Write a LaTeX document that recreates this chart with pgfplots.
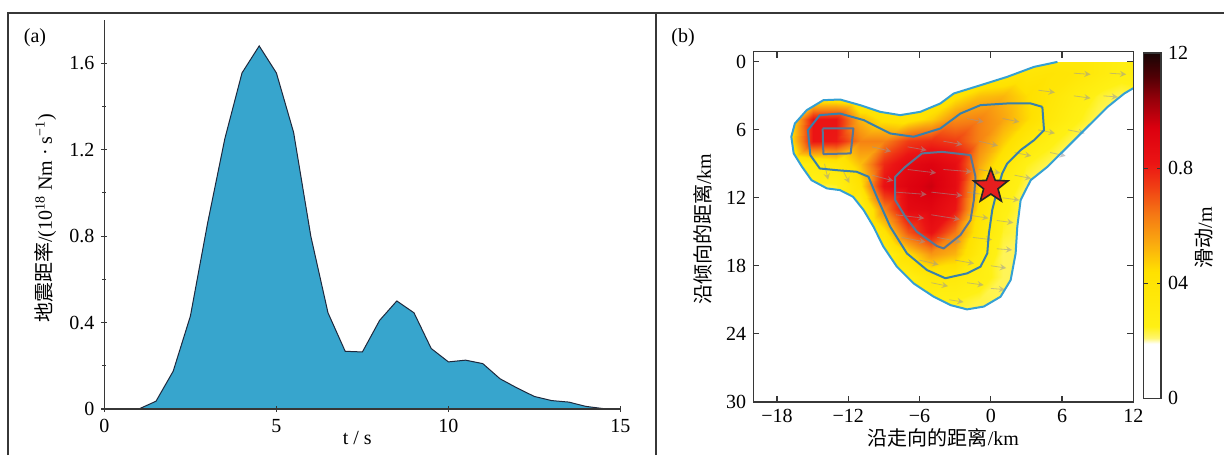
\documentclass[border=0pt]{standalone}
\usepackage{pgfplots}
\usepackage{pgfplotstable}
\pgfplotsset{compat=1.18}
\usepackage{fontspec}
\setmainfont{Liberation Serif}
\newfontfamily\cjk{Noto Sans CJK SC}
\definecolor{fillA}{RGB}{55,165,205}
\definecolor{edgeA}{RGB}{30,40,60}
\definecolor{cOuter}{RGB}{52,160,212}
\definecolor{cMid}{RGB}{55,128,172}
\definecolor{cIn}{RGB}{88,118,150}
\definecolor{starred}{RGB}{230,30,30}
\definecolor{frame}{RGB}{55,55,55}

\pgfdeclareplotmark{fstar}{%
  \pgfpathmoveto{\pgfpointpolar{90}{\pgfplotmarksize}}%
  \pgfpathlineto{\pgfpointpolar{126}{0.42\pgfplotmarksize}}%
  \pgfpathlineto{\pgfpointpolar{162}{\pgfplotmarksize}}%
  \pgfpathlineto{\pgfpointpolar{198}{0.42\pgfplotmarksize}}%
  \pgfpathlineto{\pgfpointpolar{234}{\pgfplotmarksize}}%
  \pgfpathlineto{\pgfpointpolar{270}{0.42\pgfplotmarksize}}%
  \pgfpathlineto{\pgfpointpolar{306}{\pgfplotmarksize}}%
  \pgfpathlineto{\pgfpointpolar{342}{0.42\pgfplotmarksize}}%
  \pgfpathlineto{\pgfpointpolar{18}{\pgfplotmarksize}}%
  \pgfpathlineto{\pgfpointpolar{54}{0.42\pgfplotmarksize}}%
  \pgfpathclose
  \pgfusepathqfillstroke}

\pgfplotsset{
  mystyle/.style={scale only axis, tick align=inside,
    /pgf/number format/assume math mode=true,
    ticklabel style={font=\fontsize{10}{12}\selectfont},
    label style={font=\fontsize{10}{12}\selectfont},
    axis line style={line width=0.8pt, frame},
    every tick/.style={frame, line width=0.6pt},
    major tick length=3pt, minor tick length=2pt}
}

\pgfplotstableread{
t m
0 0
1.0 0
1.5 0.036
2.0 0.175
2.5 0.43
3.0 0.86
3.5 1.25
4.0 1.555
4.5 1.68
5.0 1.555
5.5 1.28
6.0 0.80
6.5 0.445
7.0 0.267
7.5 0.264
8.0 0.41
8.5 0.50
9.0 0.445
9.5 0.28
10.0 0.218
10.5 0.226
11.0 0.21
11.5 0.14
12.0 0.097
12.5 0.058
13.0 0.039
13.5 0.032
14.0 0.012
14.5 0.002
15.0 0
}\mrf

\pgfplotstableread{
x y u v
7 1 1.4 0.1
10 1 1.4 0.1
4 2.5 1.4 0.2
7 3 1.4 0.2
9.5 3 1.2 0.1
-14 9 0.3 1.4
-12.5 9.5 0.6 1.2
-2 5 1.4 0.3
1 5 1.4 0.3
4 6 1.4 0.3
6.5 6 1.4 0.3
-10 7.5 1.6 0.4
-7 7.5 1.6 0.3
-4 7 1.6 0.3
-1 7 1.6 0.4
2 8 1.4 0.3
5 8 1.3 0.3
-10 10 1.8 0.5
-7 9.5 2.4 0.3
-4 9.5 2.4 0.2
-1 9.5 1.8 0.3
2 10 1.4 0.3
-8 11.5 2.6 0.2
-5 11.5 2.6 0.3
-2 11.5 2.0 0.3
1 12 1.4 0.2
-8 13.5 2.4 0.3
-5 13.5 2.4 0.4
-2 13.5 1.8 0.3
0.5 14 1.4 0.2
-7.5 15.5 2.0 0.4
-4.5 15.5 2.0 0.4
-1.5 15.5 1.6 0.2
0.5 16.5 1.3 0.1
-6 17.5 1.6 0.4
-3 17.5 1.6 0.3
0 18 1.3 0.2
-5 19.5 1.4 0.3
-2 19.5 1.4 0.2
0 20 1.2 0.1
-3.5 21 1.2 0.2
}\arrows

\begin{document}
\begin{tikzpicture}
\path[use as bounding box] (0pt,0pt) rectangle (612pt,227.5pt);
\draw[line width=1pt, frame] (4pt,0pt) -- (4pt,221pt) -- (612pt,221pt);
\draw[line width=1pt, frame] (328pt,0pt) -- (328pt,221pt);
\node[font=\fontsize{10}{12}\selectfont] at (17.5pt,208.5pt) {(a)};
\node[font=\fontsize{10}{12}\selectfont] at (341.5pt,208.5pt) {(b)};

% ---------------- panel (a)
\begin{axis}[mystyle, at={(52.2pt,23pt)}, anchor=south west,
  width=258pt, height=194.5pt,
  xmin=0, xmax=15, ymin=0, ymax=1.8,
  axis x line=bottom, axis y line=left, axis line style={-},
  xtick={0,5,10,15},
  ytick={0,0.4,0.8,1.2,1.6}, yticklabels={0,0.4,0.8,1.2,1.6},
  minor ytick={0.2,0.6,1.0,1.4},
  axis on top,
  xlabel={t / s},
  xlabel style={at={(axis description cs:0.49,-0.0746)}, anchor=center},
  ylabel={{\cjk 地震距率}/(10\textsuperscript{18} Nm · s\textsuperscript{−1})},
  ylabel style={at={(axis description cs:-0.1143,0.49)}, anchor=center},
]
\addplot[fill=fillA, draw=edgeA, line width=0.5pt] table[x=t,y=m]{\mrf} \closedcycle;
\end{axis}

% ---------------- panel (b)
\begin{axis}[mystyle, at={(376.65pt,26.65pt)}, anchor=south west,
  width=190pt, height=175pt,
  xmin=-20, xmax=12, ymin=-0.9, ymax=30, y dir=reverse,
  xtick={-18,-12,-6,0,6,12}, xticklabels={−18,−12,−6,0,6,12},
  ytick={0,6,12,18,24,30},
  axis on top,
  xlabel={{\cjk 沿走向的距离}/km},
  xlabel style={at={(axis description cs:0.5,-0.1029)}, anchor=center},
  ylabel={{\cjk 沿倾向的距离}/km},
  ylabel style={at={(axis description cs:-0.1316,0.493)}, anchor=center},
  colormap={slip}{rgb255(0pt)=(255,255,255); rgb255(19pt)=(255,255,255);
    rgb255(21pt)=(255,246,110); rgb255(25pt)=(255,240,20); rgb255(44pt)=(255,225,0);
    rgb255(54pt)=(250,170,15); rgb255(64pt)=(245,120,20); rgb255(74pt)=(240,60,20);
    rgb255(82pt)=(235,20,20); rgb255(94pt)=(220,0,15); rgb255(104pt)=(150,0,10);
    rgb255(112pt)=(80,0,5); rgb255(120pt)=(25,5,5)},
  point meta min=0, point meta max=1.2,
  colorbar,
  colorbar style={at={(1.0268,0.0097)}, anchor=south west, scale only axis,
    width=8.75pt, height=172.5pt,
    ytick={0,0.4,0.8,1.2}, yticklabels={0,04,0.8,12},
    yticklabel style={font=\fontsize{10}{12}\selectfont},
    tick align=inside, major tick length=2pt,
    axis line style={line width=0.8pt, frame},
    ylabel={{\cjk 滑动}/m},
    ylabel style={font=\fontsize{10}{12}\selectfont, at={(axis description cs:3.48,0.465)}, anchor=center},
  },
]
\addplot[matrix plot*, shader=interp, mesh/cols=17, point meta=explicit] coordinates {
(-20,0)[.22] (-18,0)[.22] (-16,0)[.22] (-14,0)[.22] (-12,0)[.22] (-10,0)[.22] (-8,0)[.22] (-6,0)[.22] (-4,0)[.22] (-2,0)[.22] (0,0)[.22] (2,0)[.24] (4,0)[.27] (6,0)[.32] (8,0)[.34] (10,0)[.32] (12,0)[.28]
(-20,2)[.22] (-18,2)[.22] (-16,2)[.22] (-14,2)[.22] (-12,2)[.22] (-10,2)[.22] (-8,2)[.22] (-6,2)[.22] (-4,2)[.22] (-2,2)[.25] (0,2)[.30] (2,2)[.34] (4,2)[.38] (6,2)[.40] (8,2)[.38] (10,2)[.32] (12,2)[.27]
(-20,4)[.22] (-18,4)[.22] (-16,4)[.24] (-14,4)[.32] (-12,4)[.32] (-10,4)[.26] (-8,4)[.24] (-6,4)[.27] (-4,4)[.36] (-2,4)[.42] (0,4)[.50] (2,4)[.52] (4,4)[.45] (6,4)[.38] (8,4)[.30] (10,4)[.24] (12,4)[.22]
(-20,6)[.22] (-18,6)[.22] (-16,6)[.38] (-14,6)[.82] (-12,6)[.82] (-10,6)[.52] (-8,6)[.42] (-6,6)[.40] (-4,6)[.47] (-2,6)[.60] (0,6)[.62] (2,6)[.55] (4,6)[.46] (6,6)[.35] (8,6)[.26] (10,6)[.22] (12,6)[.22]
(-20,8)[.22] (-18,8)[.24] (-16,8)[.40] (-14,8)[.82] (-12,8)[.81] (-10,8)[.62] (-8,8)[.62] (-6,8)[.74] (-4,8)[.77] (-2,8)[.74] (0,8)[.62] (2,8)[.48] (4,8)[.35] (6,8)[.26] (8,8)[.22] (10,8)[.22] (12,8)[.22]
(-20,10)[.22] (-18,10)[.22] (-16,10)[.24] (-14,10)[.32] (-12,10)[.36] (-10,10)[.50] (-8,10)[.78] (-6,10)[.88] (-4,10)[.92] (-2,10)[.86] (0,10)[.55] (2,10)[.38] (4,10)[.25] (6,10)[.22] (8,10)[.22] (10,10)[.22] (12,10)[.22]
(-20,12)[.22] (-18,12)[.22] (-16,12)[.22] (-14,12)[.22] (-12,12)[.24] (-10,12)[.42] (-8,12)[.84] (-6,12)[.92] (-4,12)[.96] (-2,12)[.87] (0,12)[.47] (2,12)[.30] (4,12)[.22] (6,12)[.22] (8,12)[.22] (10,12)[.22] (12,12)[.22]
(-20,14)[.22] (-18,14)[.22] (-16,14)[.22] (-14,14)[.22] (-12,14)[.22] (-10,14)[.24] (-8,14)[.62] (-6,14)[.88] (-4,14)[.90] (-2,14)[.82] (0,14)[.42] (2,14)[.26] (4,14)[.22] (6,14)[.22] (8,14)[.22] (10,14)[.22] (12,14)[.22]
(-20,16)[.22] (-18,16)[.22] (-16,16)[.22] (-14,16)[.22] (-12,16)[.22] (-10,16)[.22] (-8,16)[.42] (-6,16)[.70] (-4,16)[.84] (-2,16)[.64] (0,16)[.38] (2,16)[.24] (4,16)[.22] (6,16)[.22] (8,16)[.22] (10,16)[.22] (12,16)[.22]
(-20,18)[.22] (-18,18)[.22] (-16,18)[.22] (-14,18)[.22] (-12,18)[.22] (-10,18)[.22] (-8,18)[.24] (-6,18)[.44] (-4,18)[.58] (-2,18)[.52] (0,18)[.32] (2,18)[.22] (4,18)[.22] (6,18)[.22] (8,18)[.22] (10,18)[.22] (12,18)[.22]
(-20,20)[.22] (-18,20)[.22] (-16,20)[.22] (-14,20)[.22] (-12,20)[.22] (-10,20)[.22] (-8,20)[.22] (-6,20)[.27] (-4,20)[.36] (-2,20)[.34] (0,20)[.28] (2,20)[.22] (4,20)[.22] (6,20)[.22] (8,20)[.22] (10,20)[.22] (12,20)[.22]
(-20,22)[.22] (-18,22)[.22] (-16,22)[.22] (-14,22)[.22] (-12,22)[.22] (-10,22)[.22] (-8,22)[.22] (-6,22)[.22] (-4,22)[.25] (-2,22)[.25] (0,22)[.23] (2,22)[.22] (4,22)[.22] (6,22)[.22] (8,22)[.22] (10,22)[.22] (12,22)[.22]
(-20,24)[.22] (-18,24)[.22] (-16,24)[.22] (-14,24)[.22] (-12,24)[.22] (-10,24)[.22] (-8,24)[.22] (-6,24)[.22] (-4,24)[.22] (-2,24)[.22] (0,24)[.22] (2,24)[.22] (4,24)[.22] (6,24)[.22] (8,24)[.22] (10,24)[.22] (12,24)[.22]
(-20,26)[.22] (-18,26)[.22] (-16,26)[.22] (-14,26)[.22] (-12,26)[.22] (-10,26)[.22] (-8,26)[.22] (-6,26)[.22] (-4,26)[.22] (-2,26)[.22] (0,26)[.22] (2,26)[.22] (4,26)[.22] (6,26)[.22] (8,26)[.22] (10,26)[.22] (12,26)[.22]
(-20,28)[.22] (-18,28)[.22] (-16,28)[.22] (-14,28)[.22] (-12,28)[.22] (-10,28)[.22] (-8,28)[.22] (-6,28)[.22] (-4,28)[.22] (-2,28)[.22] (0,28)[.22] (2,28)[.22] (4,28)[.22] (6,28)[.22] (8,28)[.22] (10,28)[.22] (12,28)[.22]
(-20,30)[.22] (-18,30)[.22] (-16,30)[.22] (-14,30)[.22] (-12,30)[.22] (-10,30)[.22] (-8,30)[.22] (-6,30)[.22] (-4,30)[.22] (-2,30)[.22] (0,30)[.22] (2,30)[.22] (4,30)[.22] (6,30)[.22] (8,30)[.22] (10,30)[.22] (12,30)[.22]
};
% white mask outside the outer contour
\addplot[draw=none, fill=white, forget plot] coordinates {
(5.61,0) (3.64,0.44) (1.38,1.32) (-0.87,2.06) (-3.12,2.79) (-4.25,3.67) (-5.94,4.41)
(-7.63,4.70) (-9.32,4.41) (-11.0,3.82) (-12.7,3.32) (-14.1,3.38) (-15.5,4.26) (-16.5,5.44)
(-16.8,6.61) (-16.6,8.08) (-15.9,9.26) (-15.1,10.44) (-13.8,11.17) (-12.7,11.32) (-11.6,11.91)
(-10.7,13.1) (-9.88,14.55) (-9.04,16.32) (-7.91,18.08) (-6.5,19.56) (-4.81,20.73) (-3.4,21.47)
(-2.0,21.85) (-0.59,21.6) (0.82,20.73) (1.67,19.26) (2.09,16.91) (2.23,14.55) (2.51,12.2)
(3.36,10.44) (4.77,9.26) (6.46,7.50) (8.15,5.73) (9.84,3.97) (11.24,2.79) (11.95,2.35)
(12,2.35) (13,2.35) (13,32) (-22,32) (-22,-3) (13,-3) (13,0) (5.61,0)
};
% slip vectors
\addplot[quiver={u=\thisrow{u},v=\thisrow{v}}, -stealth, draw=black!40, line width=0.4pt, opacity=0.55, forget plot]
  table[x=x,y=y]{\arrows};
% contours
\addplot[cOuter, line width=1pt, line join=round, forget plot] coordinates {
(5.61,0) (3.64,0.44) (1.38,1.32) (-0.87,2.06) (-3.12,2.79) (-4.25,3.67) (-5.94,4.41)
(-7.63,4.70) (-9.32,4.41) (-11.0,3.82) (-12.7,3.32) (-14.1,3.38) (-15.5,4.26) (-16.5,5.44)
(-16.8,6.61) (-16.6,8.08) (-15.9,9.26) (-15.1,10.44) (-13.8,11.17) (-12.7,11.32) (-11.6,11.91)
(-10.7,13.1) (-9.88,14.55) (-9.04,16.32) (-7.91,18.08) (-6.5,19.56) (-4.81,20.73) (-3.4,21.47)
(-2.0,21.85) (-0.59,21.6) (0.82,20.73) (1.67,19.26) (2.09,16.91) (2.23,14.55) (2.51,12.2)
(3.36,10.44) (4.77,9.26) (6.46,7.50) (8.15,5.73) (9.84,3.97) (11.24,2.79) (11.95,2.35) (12,2.33)
};
\addplot[cMid, line width=1pt, line join=round, forget plot] coordinates {
(4.34,3.97) (4.48,6.03) (3.64,6.91) (2.51,7.79) (1.38,8.97) (0.96,9.85) (0.54,11.32)
(0.12,13.08) (-0.16,15.14) (-0.3,16.91) (-0.87,18.08) (-2.0,18.67) (-3.83,19.1) (-5.37,18.38)
(-7.06,16.91) (-8.47,14.55) (-9.6,11.91) (-10.3,10.14) (-11.3,9.70) (-12.98,9.56) (-14.4,9.41)
(-15.2,8.23) (-15.4,6.03) (-14.4,4.70) (-12.7,4.56) (-10.7,5.14) (-8.47,6.32) (-6.5,6.61)
(-4.25,5.88) (-2.56,4.56) (-0.87,3.82) (1.38,3.67) (3.36,3.67) (4.34,3.97)
};
\addplot[cIn, line width=1pt, line join=round, forget plot] coordinates {
(-14.16,5.88) (-11.57,5.88) (-11.8,8.08) (-14.1,8.14) (-14.16,5.88)
};
\addplot[cIn, line width=1pt, line join=round, forget plot] coordinates {
(-5.8,8.08) (-4.1,7.94) (-1.71,8.23) (-1.29,10.14) (-1.43,12.2) (-1.71,13.97) (-2.56,15.29)
(-3.97,16.47) (-4.53,16.26) (-6.22,15.0) (-7.2,13.67) (-8.05,12.2) (-8.05,10.14) (-7.2,9.26) (-5.8,8.08)
};
% epicentre
\addplot[only marks, mark=fstar, mark size=9pt,
  mark options={fill=starred, draw=black!85, line width=0.8pt}, forget plot] coordinates {(0,11)};
\end{axis}
\end{tikzpicture}
\end{document}
